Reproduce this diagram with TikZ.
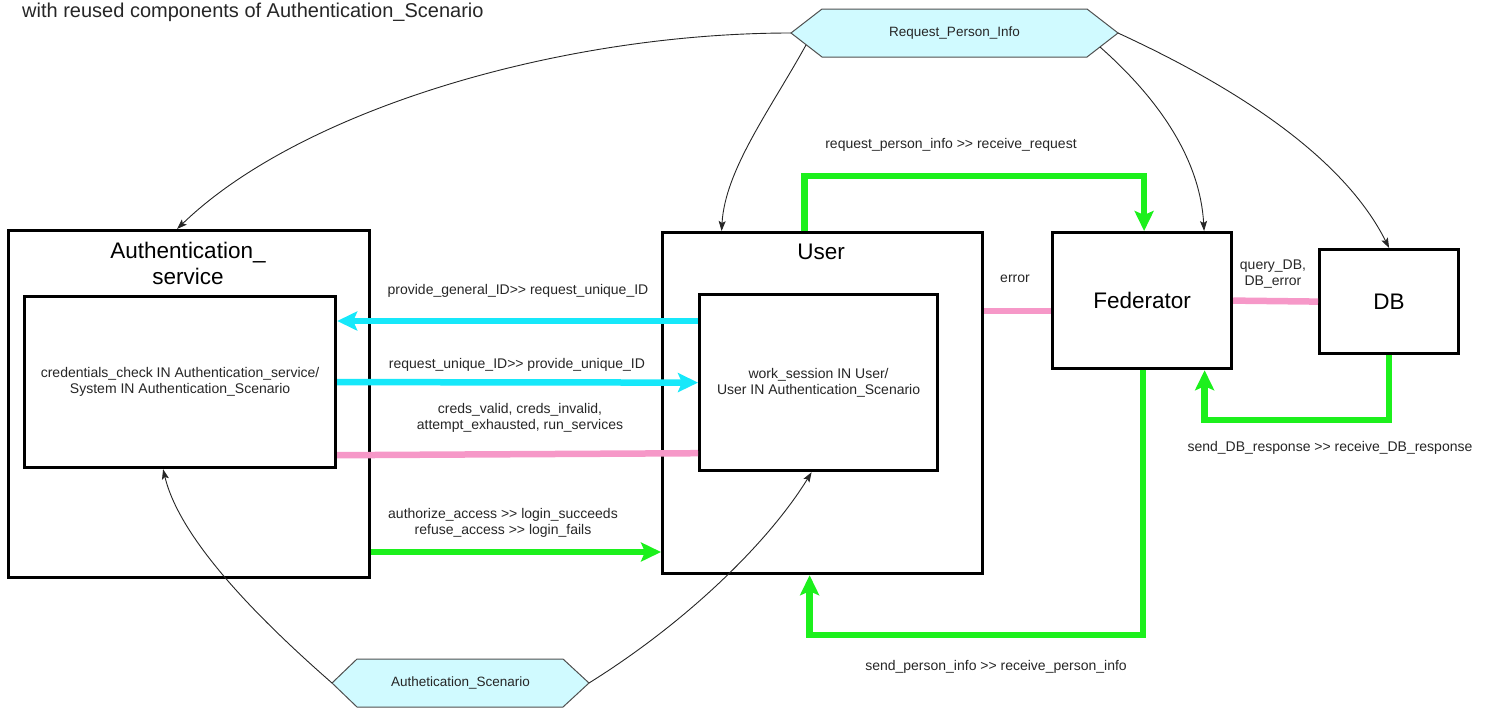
\documentclass[tikz,border=0pt]{standalone}
\usepackage{fontspec}
\setmainfont{Liberation Sans}
\usetikzlibrary{arrows.meta,calc}

\definecolor{linkcyan}{RGB}{22,232,250}
\definecolor{linkpink}{RGB}{246,152,200}
\definecolor{linkgreen}{RGB}{28,240,28}
\definecolor{hexfill}{RGB}{208,250,255}
\definecolor{hexline}{RGB}{80,80,80}
\definecolor{txt}{RGB}{38,38,38}

\tikzset{
  box/.style={draw=black, line width=3.2pt, inner sep=0pt, anchor=north west, fill=white},
  title/.style={font=\fontsize{22.5}{26}\selectfont, text=black, align=center, inner sep=0pt},
  inner text/.style={font=\fontsize{14}{16.5}\selectfont, text=txt, align=center},
  lbl/.style={font=\fontsize{14}{15.5}\selectfont, text=txt, align=center, inner sep=0pt},
  hexagon/.style={draw=hexline, fill=hexfill, line width=1pt, line join=miter},
  hexlabel/.style={font=\fontsize{13.5}{15}\selectfont, text=txt, inner sep=0pt},
  flow/.style={line width=6.5pt, line join=miter},
  flowhead/.style={-{Stealth[length=20pt, width=19pt, inset=4pt]}},
  cyanflow/.style={flow, draw=linkcyan, flowhead},
  pinkflow/.style={flow, draw=linkpink},
  greenflow/.style={flow, draw=linkgreen, flowhead},
  reuse/.style={draw=black!85, line width=0.9pt, -{Stealth[length=10pt, width=7pt, inset=2pt]}}
}

\begin{document}
\begin{tikzpicture}[x=1pt, y=-1pt]
\useasboundingbox (0,0) rectangle (1487,707);

% caption line at the top
\node[anchor=base west, font=\fontsize{20}{24}\selectfont, text=txt, inner sep=0pt] (caption)
  at (22,17) {with reused components of Authentication\_Scenario};

% components
\node[box, minimum width=361pt, minimum height=347pt] (aout) at (7,229) {};
\node[title] (atitle) at (188,263) {Authentication\_\\service};
\node[box, minimum width=311pt, minimum height=171pt, inner text] (ain) at (23,295)
  {credentials\_check IN Authentication\_service/\\System IN Authentication\_Scenario};

\node[box, minimum width=320pt, minimum height=341pt] (uout) at (661,231) {};
\node[title] (utitle) at (821,252) {User};
\node[box, minimum width=238pt, minimum height=176pt, inner text] (uin) at (698,293)
  {work\_session IN User/\\User IN Authentication\_Scenario};

\node[box, minimum width=179pt, minimum height=136pt, title] (fed) at (1051,231) {Federator};
\node[box, minimum width=139pt, minimum height=104pt, title] (db) at (1318,248) {DB};

% scenario hexagons
\draw[hexagon] (791,33) -- (822,9) -- (1087,9) -- (1118,33) -- (1087,57) -- (822,57) -- cycle;
\node[hexlabel] (rpi) at (954.5,33) {Request\_Person\_Info};
\coordinate (rpiL) at (791,33);
\coordinate (rpiBL) at (806,45);
\coordinate (rpiBR) at (1100,47);
\coordinate (rpiR) at (1118,33);

\draw[hexagon] (332,683) -- (357,659) -- (563,659) -- (589,683) -- (563,707) -- (357,707) -- cycle;
\node[hexlabel] (asc) at (460.5,683) {Authetication\_Scenario};
\coordinate (ascL) at (332,683);
\coordinate (ascR) at (589,683);

% message flows
\draw[cyanflow] ($(uin.north west)+(0,28)$) -- ($(ain.north east)+(0,26)$);
\draw[cyanflow] (ain.east) -- (uin.west);
\draw[pinkflow] ($(ain.south east)+(0,-14)$) -- ($(uin.south west)+(0,-19)$);
\draw[greenflow] ($(aout.north east)+(0,323)$) -- ($(uout.north west)+(0,321)$);
\draw[pinkflow] ($(uout.north east)+(0,80)$) -- ($(fed.north west)+(0,80)$);
\draw[pinkflow] (fed.east) -- (db.west);

\draw[greenflow] ($(uout.north)+(-18,0)$) -- ++(0,-55) -| ($(fed.north)+(2,0)$);
\draw[greenflow] ($(fed.south)+(1,0)$) -- ++(0,265) -| ($(uout.south)+(-13,0)$);
\draw[greenflow] (db.south) -- ++(0,65) -| ($(fed.south)+(62.5,0)$);

% flow labels
\node[lbl] (l1) at (951,145) {request\_person\_info >{}> receive\_request};
\node[lbl] (l2) at (518,291) {provide\_general\_ID>{}> request\_unique\_ID};
\node[lbl] (l3) at (517,365) {request\_unique\_ID>{}> provide\_unique\_ID};
\node[lbl] (l4) at (520,418) {creds\_valid, creds\_invalid,\\attempt\_exhausted, run\_services};
\node[lbl] (l5) at (503,523) {authorize\_access >{}> login\_succeeds\\refuse\_access >{}> login\_fails};
\node[lbl] (l6) at (1015,279) {error};
\node[lbl] (l7) at (1273,274) {query\_DB,\\DB\_error};
\node[lbl] (l8) at (1330,448) {send\_DB\_response >{}> receive\_DB\_response};
\node[lbl] (l9) at (996,667) {send\_person\_info >{}> receive\_person\_info};

% reuse links from the scenarios
\draw[reuse] (rpiL) .. controls (560,33) and (300,110) .. ($(aout.north)+(-12,0)$);
\draw[reuse] (rpiBL) .. controls (770,110) and (725,170) .. ($(uout.north)+(-101,0)$);
\draw[reuse] (rpiBR) .. controls (1160,100) and (1200,160) .. ($(fed.north)+(62,0)$);
\draw[reuse] (rpiR) .. controls (1220,80) and (1340,150) .. (db.north);
\draw[reuse] (ascL) .. controls (260,620) and (180,540) .. ($(ain.south)+(-17,0)$);
\draw[reuse] (ascR) .. controls (690,620) and (770,540) .. ($(uin.south)+(-7,0)$);
\end{tikzpicture}
\end{document}
